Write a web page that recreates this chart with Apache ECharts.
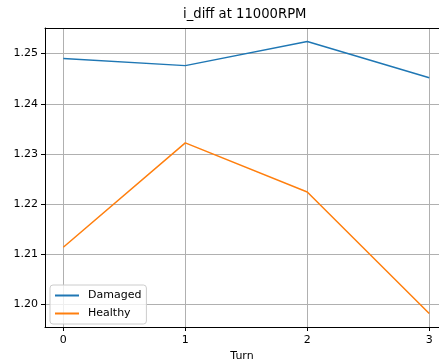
<!DOCTYPE html>
<html>
<head>
<meta charset="utf-8">
<script src="https://cdn.jsdelivr.net/npm/echarts@6/dist/echarts.min.js"></script>
<style>
  html, body { margin: 0; padding: 0; background: #fff; }
  #chart { width: 439px; height: 362px; }
</style>
</head>
<body>
<div id="chart"></div>
<script>
const turns = [0, 1, 2, 3];
const damaged = [1.2490, 1.2476, 1.2524, 1.2452];
const healthy = [1.2114, 1.2322, 1.2224, 1.1982];
const xTicks = [0, 1, 2, 3];
const yTicks = [1.20, 1.21, 1.22, 1.23, 1.24, 1.25];

const chart = echarts.init(document.getElementById('chart'));
const font = 'DejaVu Sans';

function pairs(values) {
  return turns.map((t, i) => [t, values[i]]);
}

chart.setOption({
  animation: false,
  textStyle: { fontFamily: font },
  title: {
    text: 'i_diff at 11000RPM',
    left: 183,
    top: 8,
    padding: 0,
    textStyle: { fontFamily: font, fontSize: 13.2, fontWeight: 'normal', color: '#000' }
  },
  grid: {
    left: 45,
    right: 0,
    top: 28,
    bottom: 35,
    show: false,
    outerBoundsMode: 'none',
    containLabel: false
  },
  legend: {
    left: 50,
    top: 285,
    orient: 'vertical',
    icon: 'rect',
    itemWidth: 24,
    itemHeight: 2,
    itemGap: 7,
    padding: [5, 5, 5, 5],
    backgroundColor: 'rgba(255,255,255,0.8)',
    borderColor: '#cccccc',
    borderWidth: 1,
    borderRadius: 3,
    textStyle: { fontFamily: font, fontSize: 11, color: '#000', padding: [0, 0, 0, 4] },
    data: ['Damaged', 'Healthy']
  },
  xAxis: [
    {
      type: 'value',
      min: -0.15,
      max: 3.08,
      name: 'Turn',
      nameLocation: 'middle',
      nameGap: 24,
      nameTextStyle: { fontFamily: font, fontSize: 11, color: '#000' },
      axisLine: { show: true, onZero: false, lineStyle: { color: '#000', width: 1 } },
      axisTick: { show: true, customValues: xTicks, length: 4, lineStyle: { color: '#000' } },
      axisLabel: { customValues: xTicks, margin: 8, fontFamily: font, fontSize: 11, color: '#000' },
      splitLine: { show: true, lineStyle: { color: '#b0b0b0', width: 1 } }
    },
    {
      type: 'value',
      position: 'top',
      min: -0.15,
      max: 3.08,
      axisLine: { show: true, onZero: false, lineStyle: { color: '#000', width: 1 } },
      axisTick: { show: false },
      axisLabel: { show: false },
      splitLine: { show: false }
    }
  ],
  yAxis: {
    type: 'value',
    min: 1.1955,
    max: 1.2551,
    axisLine: { show: true, onZero: false, lineStyle: { color: '#000', width: 1 } },
    axisTick: { show: true, customValues: yTicks, length: 4, lineStyle: { color: '#000' } },
    axisLabel: {
      customValues: yTicks,
      margin: 7,
      fontFamily: font,
      fontSize: 11,
      color: '#000',
      formatter: (v) => v.toFixed(2)
    },
    splitLine: { show: true, lineStyle: { color: '#b0b0b0', width: 1 } }
  },
  series: [
    {
      name: 'Damaged',
      type: 'line',
      data: pairs(damaged),
      showSymbol: false,
      symbol: 'none',
      color: '#1f77b4',
      lineStyle: { color: '#1f77b4', width: 1.5 }
    },
    {
      name: 'Healthy',
      type: 'line',
      data: pairs(healthy),
      showSymbol: false,
      symbol: 'none',
      color: '#ff7f0e',
      lineStyle: { color: '#ff7f0e', width: 1.5 }
    }
  ]
});
</script>
</body>
</html>
